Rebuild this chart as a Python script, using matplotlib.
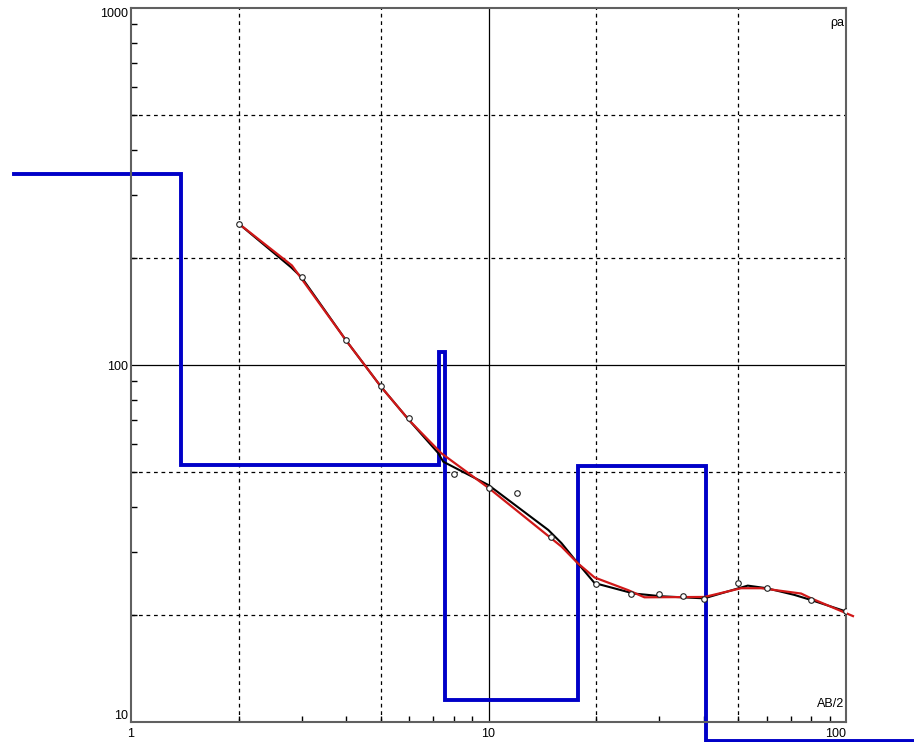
import numpy as np
import matplotlib
matplotlib.use("Agg")
import matplotlib.pyplot as plt
from matplotlib.ticker import LogLocator, NullFormatter

# VES sounding: AB/2 (m) vs apparent resistivity (Ohm.m)

# field data (circles)
ab2_obs = [2, 3, 4, 5, 6, 8, 10, 12, 15, 20, 25, 30, 35, 40, 50, 60, 80, 100]
rho_obs = [249, 176, 117.5, 87.3, 70.9, 49.5, 45.2, 43.7, 32.9, 24.3, 22.8, 22.9,
           22.6, 22.1, 24.5, 23.8, 21.9, 20.4]

# smoothed field curve (black)
ab2_smooth = [2, 2.8, 3, 4, 5, 6, 7.24, 7.47, 10, 14.7, 16, 17.8, 19.8, 25.5,
              27.9, 30.4, 40.1, 53.1, 60, 71.7, 79.9, 100]
rho_smooth = [249, 188, 176, 117, 87, 70, 56.6, 53.6, 46.1, 34.5, 31.7, 27.8, 24.5,
              22.9, 22.7, 22.5, 22.2, 24.1, 23.7, 22.7, 21.96, 20.4]

# model response (red)
ab2_model = [2, 2.82, 4, 5, 6, 7.38, 10.05, 16, 17.8, 19.8, 24.6, 27.3, 40.2,
             50.9, 57.9, 74.9, 79.9, 104.6]
rho_model = [249, 190, 117, 87, 70, 56.6, 45.1, 31.0, 27.8, 25.4, 23.4, 22.35,
             22.4, 23.7, 23.7, 22.9, 22.2, 19.8]

# layered model (blue): resistivity of each layer and depth of its bottom
layer_rho = [343, 52.5, 109, 11.5, 52.2, 8.85]
layer_bottom = [1.38, 7.25, 7.54, 17.8, 40.6]
model_start, model_end = 0.471, 156

fig = plt.figure(figsize=(9.14, 7.42), dpi=100)
ax = fig.add_axes([131/914, 1-722/742, 715/914, 714/742])
ax.set_xscale('log')
ax.set_yscale('log')
ax.set_xlim(1, 100)
ax.set_ylim(10, 1000)

# grid: solid at decades, dashed at 2 and 5
for v in [2, 5, 20, 50]:
    ax.axvline(v, color='black', lw=0.9, ls=(0, (3, 3)), zorder=1)
for v in [20, 50, 200, 500]:
    ax.axhline(v, color='black', lw=0.9, ls=(0, (3, 3)), zorder=1)
ax.axvline(10, color='black', lw=0.9, zorder=1)
ax.axhline(100, color='black', lw=0.9, zorder=1)

# step model
xs = [model_start]
ys = [layer_rho[0]]
for i, d in enumerate(layer_bottom):
    xs += [d, d]
    ys += [layer_rho[i], layer_rho[i+1]]
xs.append(model_end)
ys.append(layer_rho[-1])
ax.plot(xs, ys, color='#0000c8', lw=2.8, clip_on=False, zorder=2,
        solid_joinstyle='miter')

ax.plot(ab2_smooth, rho_smooth, color='black', lw=1.5, zorder=3)
ax.plot(ab2_model, rho_model, color='#d01818', lw=1.6, zorder=4, clip_on=False)
ax.plot(ab2_obs, rho_obs, 'o', ms=4, mfc='white', mec='#202020', mew=0.8, zorder=5)

# ticks
ax.set_xticks([1, 10, 100])
ax.set_xticklabels(['1', '10', '100'])
ax.set_yticks([10, 100, 1000])
ax.set_yticklabels(['10', '100', '1000'])
ax.xaxis.set_minor_locator(LogLocator(base=10, subs=np.arange(2, 10)))
ax.yaxis.set_minor_locator(LogLocator(base=10, subs=np.arange(2, 10)))
ax.xaxis.set_minor_formatter(NullFormatter())
ax.yaxis.set_minor_formatter(NullFormatter())
ax.tick_params(which='major', length=0, labelsize=9, pad=2)
ax.tick_params(which='minor', direction='in', length=4, width=1, color='black')
ax.tick_params(axis='x', which='major', pad=4)
for lab in ax.get_xticklabels() + ax.get_yticklabels():
    lab.set_family('Liberation Sans')
ylabs = ax.get_yticklabels()
ylabs[0].set_va('bottom')
ylabs[2].set_va('top')
xlabs = ax.get_xticklabels()
xlabs[2].set_ha('right')

for s in ax.spines.values():
    s.set_color('#606060')
    s.set_linewidth(1.5)

ax.text(0.998, 0.988, 'ρa', transform=ax.transAxes, ha='right', va='top',
        fontsize=9, family='Liberation Sans')
ax.text(0.998, 0.017, 'AB/2', transform=ax.transAxes, ha='right', va='bottom',
        fontsize=9, family='Liberation Sans')

fig.savefig('out.png', dpi=100)
